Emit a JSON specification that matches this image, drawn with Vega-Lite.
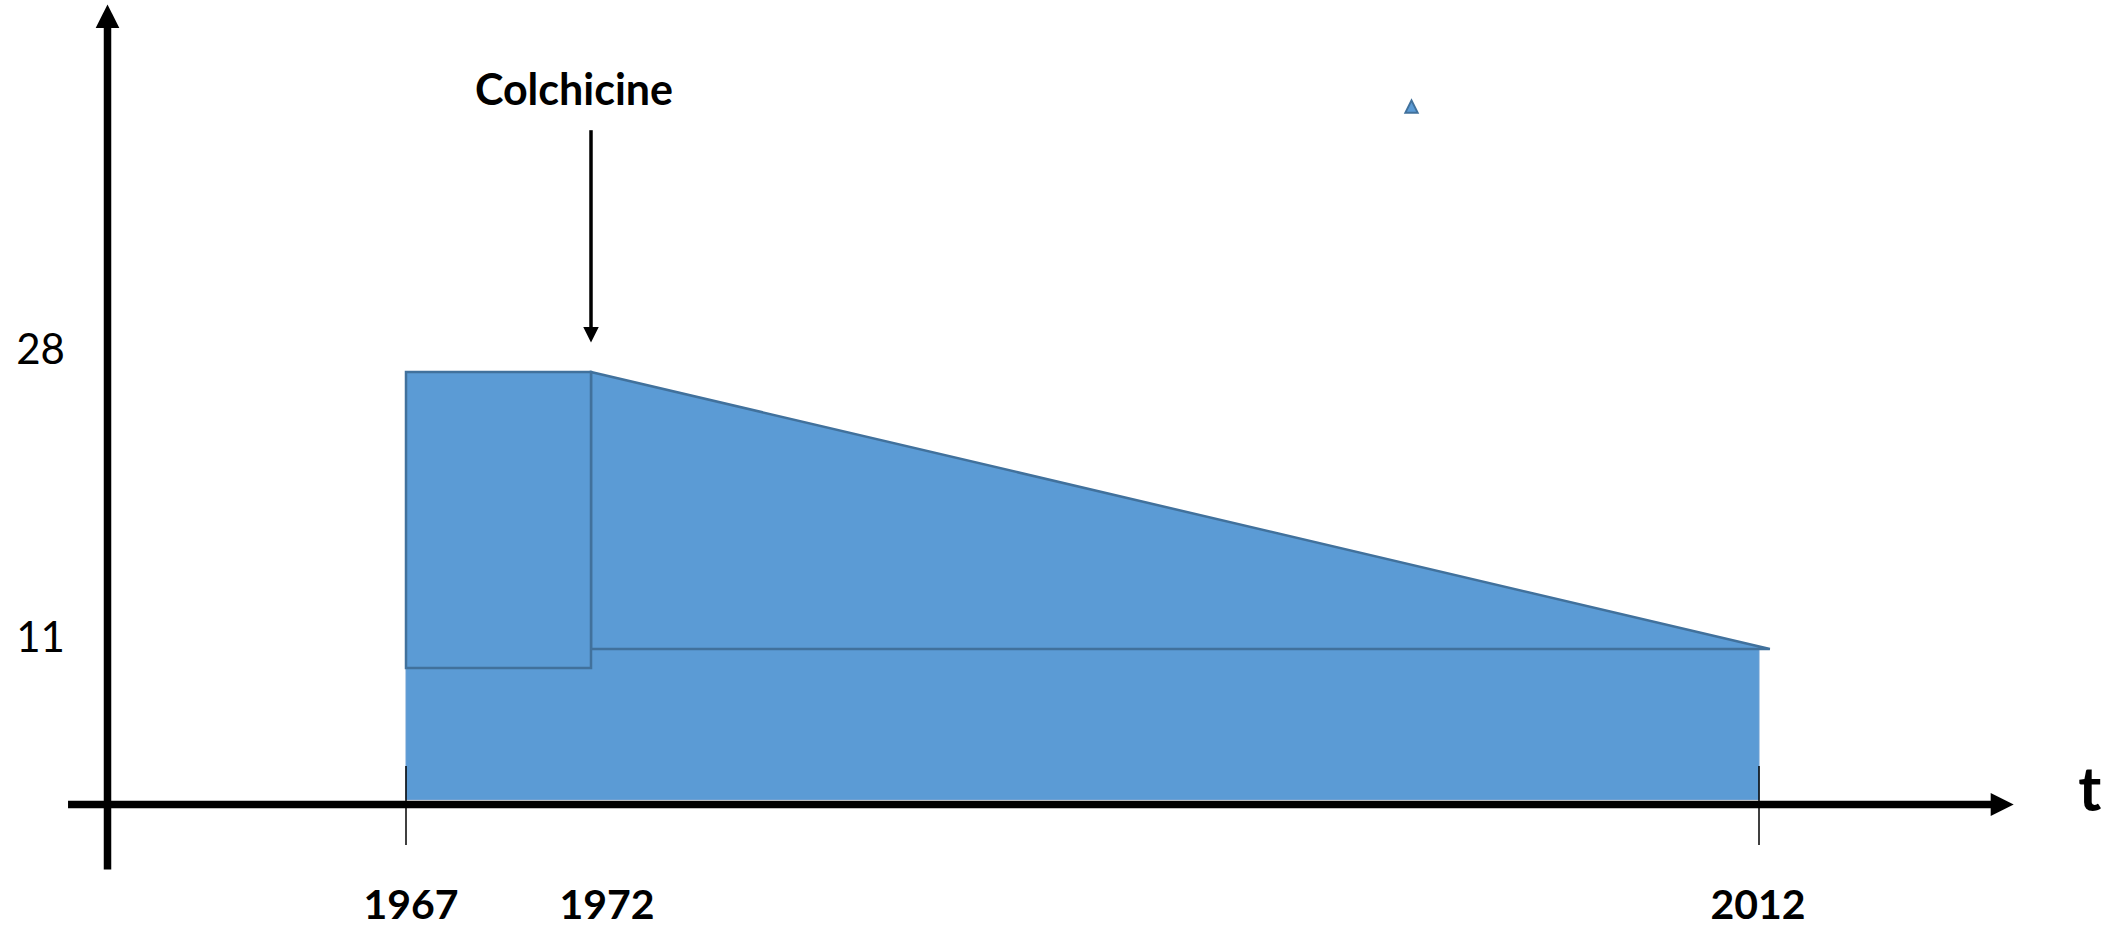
{
  "$schema": "https://vega.github.io/schema/vega-lite/v6.json",
  "width": 2121,
  "height": 930,
  "autosize": {"type": "none"},
  "padding": 0,
  "background": "white",
  "config": {"view": {"stroke": null}, "text": {"font": "Lato", "color": "black"}},
  "encoding": {
    "x": {
      "field": "x",
      "type": "quantitative",
      "axis": null,
      "scale": {"domain": [1958, 1967, 1972, 2012, 2020], "range": [107.5, 406, 591, 1759, 2015], "nice": false, "zero": false}
    },
    "y": {
      "field": "y",
      "type": "quantitative",
      "axis": null,
      "scale": {"domain": [0, 11, 28, 50], "range": [804.5, 649, 372, 0], "nice": false, "zero": false}
    }
  },
  "layer": [
    {
      "data": {"values": [{"x": 1967, "x2": 2012, "y": 0.35, "y2": 11}]},
      "mark": {"type": "rect", "fill": "#5B9BD5", "stroke": "#6A9ED2", "strokeWidth": 1},
      "encoding": {"x2": {"field": "x2"}, "y2": {"field": "y2"}}
    },
    {
      "data": {"values": [{"x": 1972, "y": 28, "y2": 11}, {"x": 2012.34, "y": 11, "y2": 11}]},
      "mark": {"type": "area", "orient": "vertical", "fill": "#5B9BD5", "stroke": "#41719C", "strokeWidth": 2.5, "strokeJoin": "miter"},
      "encoding": {"y2": {"field": "y2"}}
    },
    {
      "data": {"values": [{"x": 1967, "x2": 1972, "y": 9.66, "y2": 28}]},
      "mark": {"type": "rect", "fill": "#5B9BD5", "stroke": "#41719C", "strokeWidth": 2.5},
      "encoding": {"x2": {"field": "x2"}, "y2": {"field": "y2"}}
    },
    {
      "data": {"values": [
        {"x": 1958, "y": -4.6, "x2": 1958, "y2": 48.6},
        {"x": 1956.81, "y": 0, "x2": 2019.4, "y2": 0}
      ]},
      "mark": {"type": "rule", "color": "black", "strokeWidth": 7.5},
      "encoding": {"x2": {"field": "x2"}, "y2": {"field": "y2"}}
    },
    {
      "data": {"values": [{"x": 1967, "y": -2.86, "y2": 2.72}, {"x": 2012, "y": -2.86, "y2": 2.72}]},
      "mark": {"type": "rule", "color": "black", "strokeWidth": 1.5},
      "encoding": {"y2": {"field": "y2"}}
    },
    {
      "data": {"values": [{"x": 1972, "y": 30.5, "y2": 42.3}]},
      "mark": {"type": "rule", "color": "black", "strokeWidth": 3.5},
      "encoding": {"y2": {"field": "y2"}}
    },
    {
      "data": {"values": [{"x": 1958, "y": 49.04}]},
      "mark": {"type": "point", "shape": "M0,-1L-1,1L1,1Z", "size": 560, "filled": true, "color": "black", "opacity": 1, "strokeWidth": 0},
      "encoding": {}
    },
    {
      "data": {"values": [{"x": 2019.6, "y": 0}]},
      "mark": {"type": "point", "shape": "M1,0L-1,-1L-1,1Z", "size": 529, "filled": true, "color": "black", "opacity": 1, "strokeWidth": 0},
      "encoding": {}
    },
    {
      "data": {"values": [{"x": 1972, "y": 30.2}]},
      "mark": {"type": "point", "shape": "M-1,-1L1,-1L0,1Z", "size": 240, "filled": true, "color": "black", "opacity": 1, "strokeWidth": 0},
      "encoding": {}
    },
    {
      "data": {"values": [{"x": 2000.1, "y": 43.7}]},
      "mark": {"type": "point", "shape": "M0,-1L-1,1L1,1Z", "size": 150, "filled": true, "fill": "#5B9BD5", "stroke": "#41719C", "strokeWidth": 2, "opacity": 1},
      "encoding": {}
    },
    {
      "data": {"values": [{"x": 1967, "y": 0, "label": "1967"}]},
      "mark": {"type": "text", "fontSize": 41, "fontWeight": "bold", "align": "center", "baseline": "middle", "dx": 5, "dy": 102},
      "encoding": {"text": {"field": "label"}}
    },
    {
      "data": {"values": [{"x": 1972, "y": 0, "label": "1972"}]},
      "mark": {"type": "text", "fontSize": 41, "fontWeight": "bold", "align": "center", "baseline": "middle", "dx": 16, "dy": 102},
      "encoding": {"text": {"field": "label"}}
    },
    {
      "data": {"values": [{"x": 2012, "y": 0, "label": "2012"}]},
      "mark": {"type": "text", "fontSize": 41, "fontWeight": "bold", "align": "center", "baseline": "middle", "dx": -1, "dy": 102},
      "encoding": {"text": {"field": "label"}}
    },
    {
      "data": {"values": [{"x": 1958, "y": 28, "label": "28"}]},
      "mark": {"type": "text", "fontSize": 42, "align": "center", "baseline": "middle", "dx": -67, "dy": -21},
      "encoding": {"text": {"field": "label"}}
    },
    {
      "data": {"values": [{"x": 1958, "y": 11, "label": "11"}]},
      "mark": {"type": "text", "fontSize": 42, "align": "center", "baseline": "middle", "dx": -67, "dy": -10.5},
      "encoding": {"text": {"field": "label"}}
    },
    {
      "data": {"values": [{"x": 1972, "y": 44.57, "label": "Colchicine"}]},
      "mark": {"type": "text", "fontSize": 43, "fontWeight": "bold", "align": "center", "baseline": "middle", "dx": -17},
      "encoding": {"text": {"field": "label"}}
    },
    {
      "data": {"values": [{"x": 2022.34, "y": 0.88, "label": "t"}]},
      "mark": {"type": "text", "fontSize": 62, "fontWeight": "bold", "align": "center", "baseline": "middle"},
      "encoding": {"text": {"field": "label"}}
    }
  ]
}
